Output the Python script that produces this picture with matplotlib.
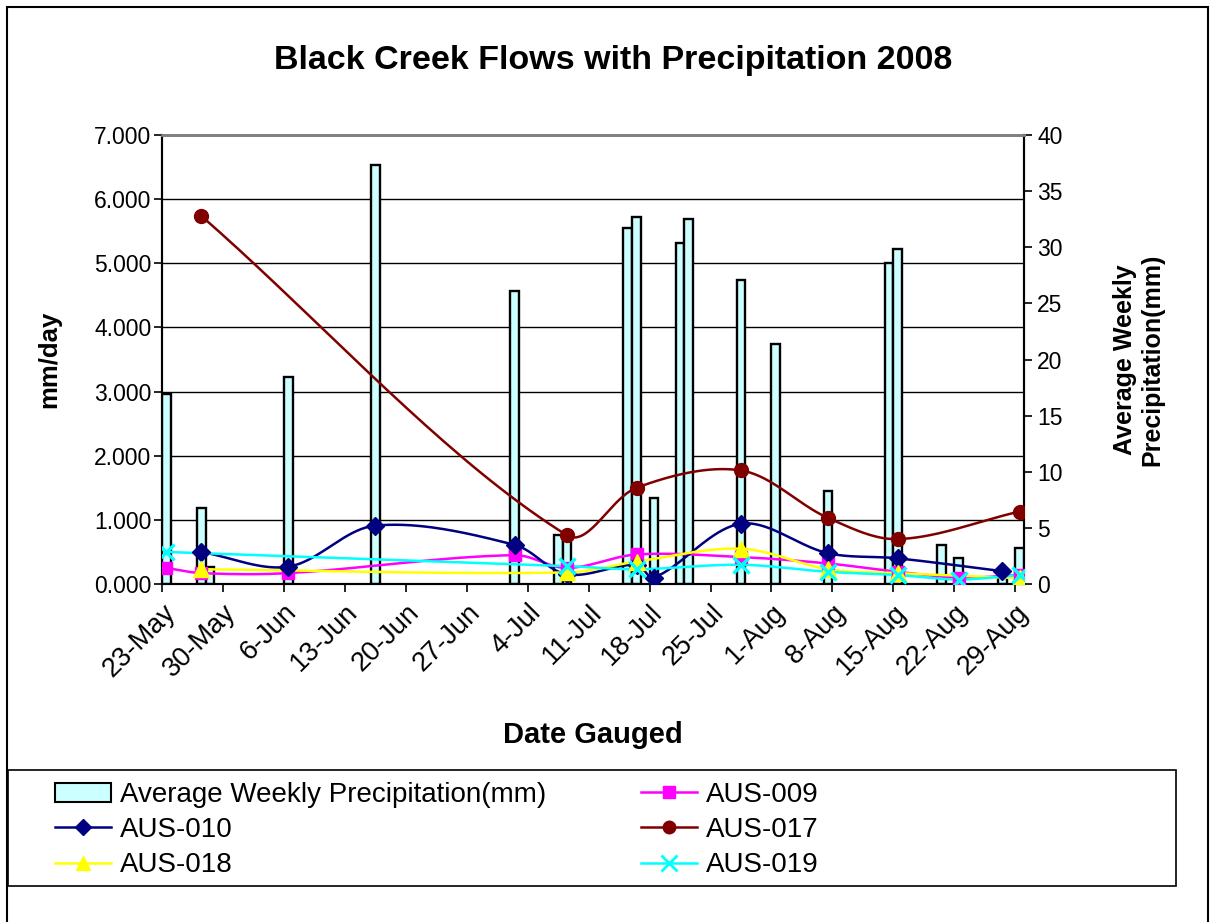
import numpy as np
import matplotlib
matplotlib.use('Agg')
import matplotlib.pyplot as plt
import matplotlib.dates as mdates
import matplotlib.transforms as mtransforms
from matplotlib.patches import Rectangle
from matplotlib.lines import Line2D
from datetime import date

plt.rcParams['font.family'] = ['Liberation Sans', 'DejaVu Sans']

# weekly precipitation (mm), one bar per day
rain_dates = ['2008-05-23', '2008-05-27', '2008-05-28', '2008-06-06', '2008-06-16',
              '2008-07-02', '2008-07-07', '2008-07-08', '2008-07-15', '2008-07-16',
              '2008-07-18', '2008-07-21', '2008-07-22', '2008-07-28', '2008-08-01',
              '2008-08-07', '2008-08-14', '2008-08-15', '2008-08-20', '2008-08-22',
              '2008-08-27', '2008-08-29']
rain_mm = [16.9, 6.75, 1.55, 18.45, 37.3, 26.1, 4.4, 3.9, 31.7, 32.7, 7.7, 30.4,
           32.5, 27.1, 21.35, 8.3, 28.6, 29.8, 3.45, 2.3, 1.0, 3.25]

# gauged flows (mm/day)
aus009_dates = ['2008-05-23', '2008-05-27', '2008-06-06', '2008-07-02', '2008-07-08',
                '2008-07-16', '2008-07-28', '2008-08-07', '2008-08-15', '2008-08-22',
                '2008-08-29']
aus009 = [0.25, 0.17, 0.17, 0.45, 0.25, 0.46, 0.42, 0.32, 0.19, 0.10, 0.14]

aus010_dates = ['2008-05-27', '2008-06-06', '2008-06-16', '2008-07-02', '2008-07-08',
                '2008-07-16', '2008-07-18', '2008-07-28', '2008-08-07', '2008-08-15',
                '2008-08-27']
aus010 = [0.50, 0.27, 0.91, 0.61, 0.15, 0.30, 0.10, 0.94, 0.48, 0.40, 0.20]

aus017_dates = ['2008-05-27', '2008-07-08', '2008-07-16', '2008-07-28', '2008-08-07',
                '2008-08-15', '2008-08-29']
aus017 = [5.74, 0.76, 1.50, 1.77, 1.03, 0.70, 1.13]

aus018_dates = ['2008-05-27', '2008-07-08', '2008-07-16', '2008-07-28', '2008-08-07',
                '2008-08-15', '2008-08-29']
aus018 = [0.23, 0.18, 0.35, 0.55, 0.23, 0.17, 0.09]

aus019_dates = ['2008-05-23', '2008-07-08', '2008-07-16', '2008-07-28', '2008-08-07',
                '2008-08-15', '2008-08-22', '2008-08-29']
aus019 = [0.50, 0.28, 0.23, 0.30, 0.19, 0.14, 0.07, 0.14]

tick_dates = ['2008-05-23', '2008-05-30', '2008-06-06', '2008-06-13', '2008-06-20',
              '2008-06-27', '2008-07-04', '2008-07-11', '2008-07-18', '2008-07-25',
              '2008-08-01', '2008-08-08', '2008-08-15', '2008-08-22', '2008-08-29']
tick_labels = ['23-May', '30-May', '6-Jun', '13-Jun', '20-Jun', '27-Jun', '4-Jul',
               '11-Jul', '18-Jul', '25-Jul', '1-Aug', '8-Aug', '15-Aug', '22-Aug',
               '29-Aug']


def dnum(lst):
    return np.array([mdates.date2num(date.fromisoformat(s)) for s in lst])


def smooth(x, y, sx, sy, n=40):
    # bezier through the points, tangents scaled by chord length on screen
    pts = np.column_stack([x * sx, y * sy])
    P = np.vstack([pts[0], pts, pts[-1]])
    segs = []
    t = np.linspace(0, 1, n)[:, None]

    def tangent(a, b, c):
        d = np.hypot(*(b - a)) + np.hypot(*(c - b))
        return (c - a) / d if d > 0 else np.zeros(2)

    for i in range(1, len(P) - 2):
        p0, p1, p2, p3 = P[i - 1], P[i], P[i + 1], P[i + 2]
        L = np.hypot(*(p2 - p1))
        c1 = p1 + tangent(p0, p1, p2) * L / 3
        c2 = p2 - tangent(p1, p2, p3) * L / 3
        b = ((1 - t) ** 3) * p1 + 3 * ((1 - t) ** 2) * t * c1 + 3 * (1 - t) * t ** 2 * c2 + t ** 3 * p2
        segs.append(b)
    c = np.vstack(segs)
    return c[:, 0] / sx, c[:, 1] / sy


fig = plt.figure(figsize=(12.16, 9.22), dpi=100)
fig.patches.append(Rectangle((7 / 1216, -0.1), 1201 / 1216, 1.1 - 7 / 922, transform=fig.transFigure,
                             fill=False, edgecolor='black', linewidth=1.5))

ax = fig.add_axes([162 / 1216, 1 - 584 / 922, 862 / 1216, 449 / 922])
ax2 = ax.twinx()
ax.set_zorder(ax2.get_zorder() + 1)
ax.patch.set_visible(False)
ax2.patch.set_facecolor('#C0C0C0')

x0 = mdates.date2num(date(2008, 5, 23))
x1 = mdates.date2num(date(2008, 8, 30))
ymax = 7
px_day = 862 / (x1 - x0)
px_unit = 449 / ymax

# bars on the right axis
ax2.bar(dnum(rain_dates), rain_mm, width=1, align='edge', color='#CCFFFF',
        edgecolor='black', linewidth=1.7, zorder=3)
ax2.set_ylim(0, 40)
ax2.set_yticks(range(0, 41, 5))
for k in range(1, ymax):
    ax2.axhline(k * 40 / ymax, color='black', linewidth=1.0, zorder=1)

series = [
    (aus009_dates, aus009, '#FF00FF', 's', 9, 'AUS-009'),
    (aus010_dates, aus010, '#000080', 'D', 9, 'AUS-010'),
    (aus017_dates, aus017, '#800000', 'o', 10, 'AUS-017'),
    (aus018_dates, aus018, '#FFFF00', '^', 11, 'AUS-018'),
    (aus019_dates, aus019, '#00FFFF', 'x', 12, 'AUS-019'),
]
handles = {}
for dts, vals, col, mk, ms, name in series:
    x = dnum(dts) + 0.5
    cx, cy = smooth(x, np.array(vals), px_day, px_unit)
    ax.plot(cx, cy, color=col, linewidth=1.8, zorder=4)
    ax.plot(x, vals, linestyle='none', marker=mk, markersize=ms, color=col,
            markeredgewidth=2.4 if mk == 'x' else 1, zorder=5)
    handles[name] = Line2D([], [], color=col, linewidth=1.8, marker=mk,
                           markersize=ms - 1, markeredgewidth=2 if mk == 'x' else 1)

ax.set_ylim(0, ymax)
ax.set_yticks(np.arange(0, ymax + 0.01, 1))
ax.set_yticklabels(['%.3f' % v for v in np.arange(0, ymax + 0.01, 1)])
ax.set_xlim(x0, x1)
ax.set_xticks(dnum(tick_dates))
ax.set_xticklabels(tick_labels, rotation=45, ha='right', va='top', rotation_mode='anchor')
shift = mtransforms.ScaledTranslation(-7 / 72, 0, fig.dpi_scale_trans)
for lbl in ax.get_xticklabels():
    lbl.set_transform(lbl.get_transform() + shift)

for a in (ax, ax2):
    a.tick_params(direction='out', length=6, width=1.2, labelsize=16.5, colors='black')
    for side in ('left', 'right', 'bottom'):
        a.spines[side].set_linewidth(1.5)
        a.spines[side].set_color('black')
    a.spines['top'].set_color('#808080')
    a.spines['top'].set_linewidth(2)
ax.tick_params(axis='y', pad=1.5)
ax.tick_params(axis='x', pad=5, labelsize=19.5)

ax.set_ylabel('mm/day', fontsize=18.5, fontweight='bold', labelpad=24)
ax2.set_ylabel('Average Weekly\nPrecipitation(mm)', fontsize=18, fontweight='bold',
               rotation=90, labelpad=36)
ax.set_xlabel('Date Gauged', fontsize=21, fontweight='bold', labelpad=28)
fig.text(613 / 1216, 1 - 61 / 922, 'Black Creek Flows with Precipitation 2008',
         ha='center', va='center', fontsize=24.5, fontweight='bold')

# legend box
fig.patches.append(Rectangle((8 / 1216, 1 - 886 / 922), 1168 / 1216, 116 / 922,
                             transform=fig.transFigure, fill=False,
                             edgecolor='black', linewidth=1.2))
bar_handle = Rectangle((0, 0), 1, 1, facecolor='#CCFFFF', edgecolor='black', linewidth=1.5)
order = [(bar_handle, 'Average Weekly Precipitation(mm)'),
         (handles['AUS-010'], 'AUS-010'), (handles['AUS-018'], 'AUS-018'),
         (handles['AUS-009'], 'AUS-009'), (handles['AUS-017'], 'AUS-017'),
         (handles['AUS-019'], 'AUS-019')]
fig.legend([h for h, _ in order], [l for _, l in order], ncol=2, frameon=False,
           loc='upper left', bbox_to_anchor=(55 / 1216, 1 - 782 / 922),
           fontsize=20, handlelength=2.0, handletextpad=0.35, columnspacing=3.4,
           labelspacing=0.33, borderaxespad=0, borderpad=0)

fig.savefig('out.png', dpi=100)
